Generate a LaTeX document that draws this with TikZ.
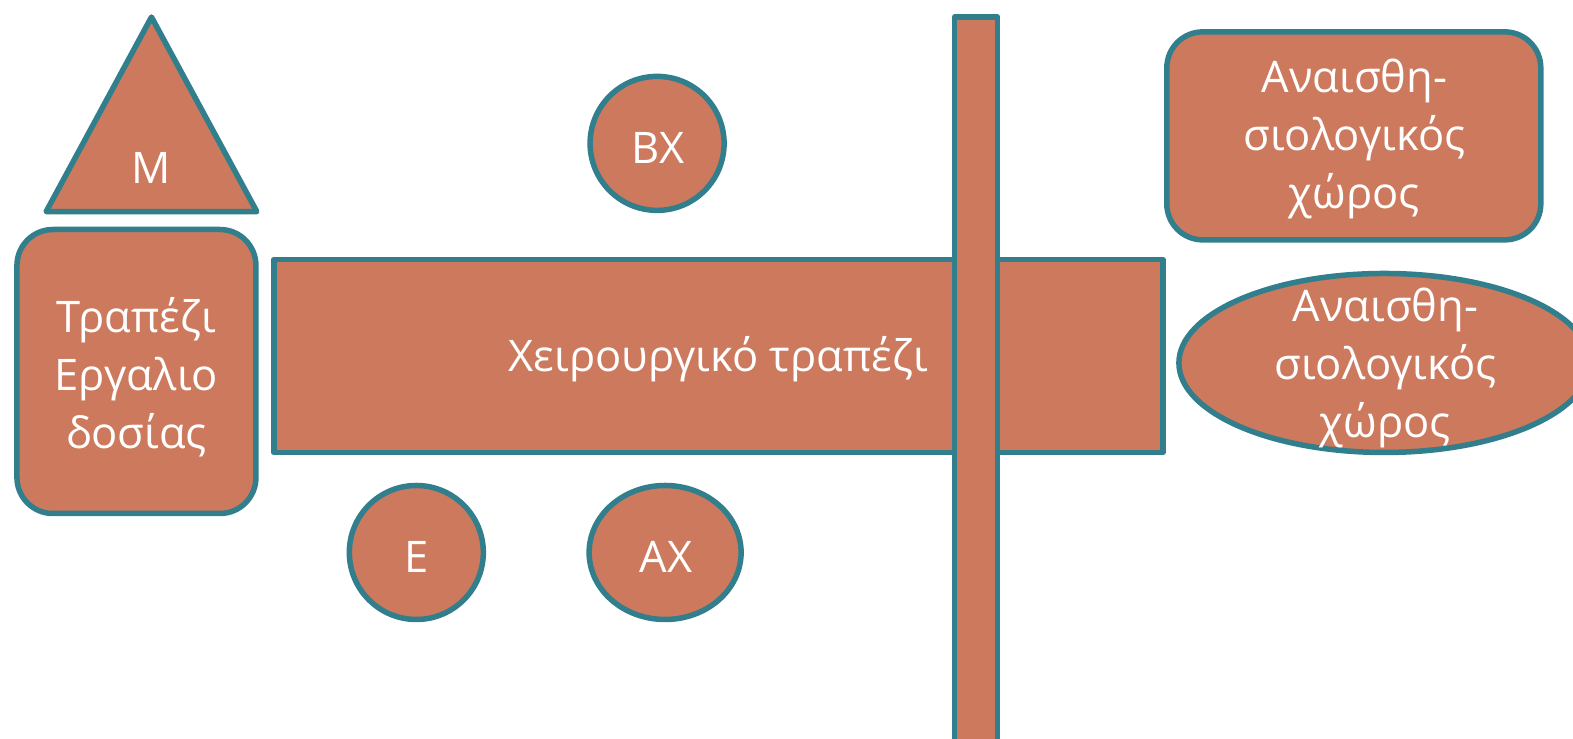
\documentclass[tikz,border=0pt]{standalone}
\usepackage{fontspec}
\setmainfont{Open Sans}
\usetikzlibrary{shapes.geometric}
\definecolor{terra}{RGB}{204,121,93}
\definecolor{tealb}{RGB}{49,126,140}
\begin{document}
\begin{tikzpicture}[x=1.0032pt,y=-1.0027pt,
  shp/.style={fill=terra,draw=tealb,line width=5.5pt,line join=round,
    inner sep=0pt,outer sep=0pt},
  rbox/.style={shp,rectangle,rounded corners=36pt},
  sbox/.style={shp,rectangle},
  circ/.style={shp,ellipse},
  lbl/.style={text=white,inner sep=0pt,font=\fontsize{43.5}{58}\selectfont,align=center}]
\useasboundingbox (0,0) rectangle (1568,737);
% triangle
\coordinate (tA) at (151,17);
\coordinate (tL) at (46,211);
\coordinate (tR) at (256,211);
\draw[fill=terra,draw=tealb,line width=5.5pt,line join=round] (tA) -- (tR) -- (tL) -- cycle;
\node[lbl] (m) at (151,168) {M};
% left tool table
\node[rbox,minimum width=239pt,minimum height=284pt] (tool) at (136,370.5) {};
\node[lbl] (toolt) at (136,376) {Τραπέζι\\Εργαλιο\\δοσίας};
% main table
\node[sbox,minimum width=889pt,minimum height=193pt] (main) at (716,355) {};
\node[lbl] (maint) at (716,358) {Χειρουργικό τραπέζι};
% vertical bar
\node[sbox,minimum width=43pt,minimum height=760pt,anchor=north] (bar) at (973,17) {};
% circles
\node[circ,minimum width=134pt,minimum height=134pt] (bx) at (655,143) {};
\node[lbl] (bxt) at (656,148) {ΒΧ};
\node[circ,minimum width=134pt,minimum height=134pt] (e) at (415,551) {};
\node[lbl] (et) at (415,555) {Ε};
\node[circ,minimum width=152pt,minimum height=134pt] (ax) at (663,551) {};
\node[lbl] (axt) at (664,555) {ΑΧ};
% top right anaesthesia
\node[rbox,minimum width=374pt,minimum height=208pt] (an1) at (1349.5,135.5) {};
\node[lbl] (an1t) at (1350,139) {Αναισθη-\\σιολογικός\\χώρος};
% ellipse anaesthesia
\node[circ,minimum width=411pt,minimum height=179pt] (an2) at (1380,362) {};
\node[lbl] (an2t) at (1381,367) {Αναισθη-\\σιολογικός\\χώρος};
\end{tikzpicture}
\end{document}
